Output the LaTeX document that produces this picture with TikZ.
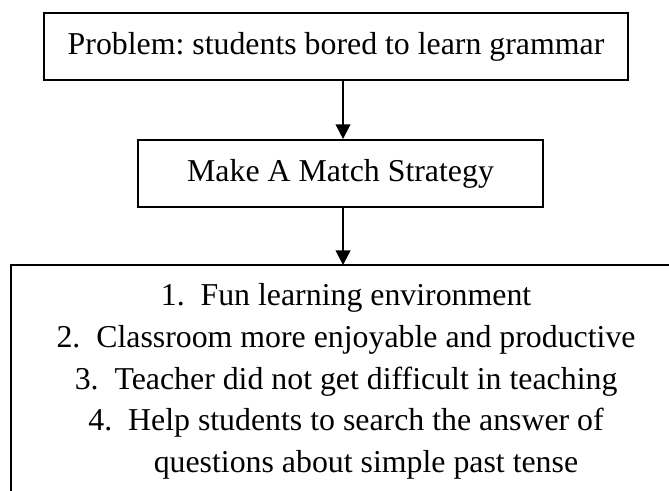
\documentclass[tikz,border=0pt]{standalone}
\usepackage{fontspec}
\setmainfont{Liberation Serif}
\usetikzlibrary{positioning,arrows.meta}

\begin{document}
\frenchspacing
\begin{tikzpicture}[
    box/.style={draw,line width=0.75pt,inner sep=0pt,font=\fontsize{12}{15.7}\selectfont},
    flow/.style={-{Triangle[length=5.5pt,width=5.5pt]},line width=0.75pt}
]
    % cadre de l'image
    \clip (0,0) rectangle (8.864,6.4925);

    % les deux boites du haut
    \node[box,minimum width=7.738cm,minimum height=0.888cm] (probleme) at (4.452,5.876) {Problem: students bored to learn grammar};
    \node[box,minimum width=5.366cm,minimum height=0.888cm] (strategie) at (4.512,4.194) {Make A Match Strategy};

    % boite des resultats, ouverte a droite
    \coordinate (axe) at (4.545,2.981);
    \coordinate (coin) at (0.146,2.981);
    \draw[line width=0.75pt] (9.2,2.981) -- (coin) -- (0.146,-0.2);
    \node[align=center,anchor=north,inner sep=0pt,font=\fontsize{12}{15.7}\selectfont] (liste) at (4.585,2.740) {%
        1.~~Fun learning environment\\
        2.~~Classroom more enjoyable and productive\\
        3.~~Teacher did not get difficult in teaching\\
        4.~~Help students to search the answer of\\
        \phantom{4.~~}questions about simple past tense};

    % fleches
    \draw[flow] (probleme.south -| axe) -- (strategie.north -| axe);
    \draw[flow] (strategie.south -| axe) -- (axe);
\end{tikzpicture}
\end{document}
